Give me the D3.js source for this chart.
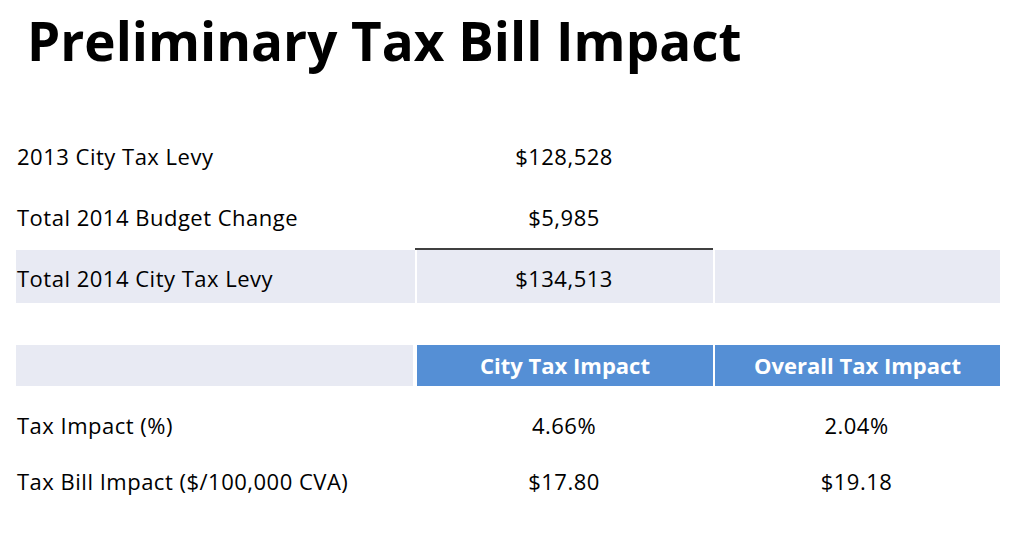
<!DOCTYPE html>
<html>
<head>
<meta charset="utf-8">
<script src="https://cdn.jsdelivr.net/npm/d3@7"></script>
<style>
  body { margin: 0; background: #fff; }
  text { font-family: "Open Sans", Lato, sans-serif; letter-spacing: 0.5px; }
</style>
</head>
<body>
<svg id="chart" width="1024" height="542"></svg>
<script>
// data
const title = 'Preliminary Tax Bill Impact';
const levyLabels = ['2013 City Tax Levy', 'Total 2014 Budget Change', 'Total 2014 City Tax Levy'];
const levyValues = ['$128,528', '$5,985', '$134,513'];
const impactHeaders = ['City Tax Impact', 'Overall Tax Impact'];
const impactLabels = ['Tax Impact (%)', 'Tax Bill Impact ($/100,000 CVA)'];
const cityImpact = ['4.66%', '$17.80'];
const overallImpact = ['2.04%', '$19.18'];

const svg = d3.select('#chart');

// column layout: label | col1 | col2
const x = d3.scaleOrdinal().domain(['label', 'c1', 'c2']).range([16, 415, 713]);
const colWidth = { label: 399, c1: 298, c2: 287 };
const xMid = col => x(col) + colWidth[col] / 2;

// row layout
const y1 = d3.scalePoint().domain(levyLabels).range([157, 279]);
const y2 = d3.scalePoint().domain(impactLabels).range([426, 482]);

svg.append('text')
    .attr('x', 27).attr('y', 61)
    .attr('font-size', 53).attr('font-weight', 700)
    .style('letter-spacing', '0px')
    .attr('fill', '#000')
    .text(title);

// shaded total row
['label', 'c1', 'c2'].forEach(col => {
    svg.append('rect')
        .attr('x', x(col) + (col === 'label' ? 0 : 2))
        .attr('y', 250).attr('height', 53)
        .attr('width', colWidth[col] - (col === 'label' ? 0 : 2))
        .attr('fill', '#e8eaf3');
});
svg.append('line')
    .attr('x1', x('c1')).attr('x2', x('c2'))
    .attr('y1', 249).attr('y2', 249)
    .attr('stroke', '#000').attr('stroke-width', 1.5);

levyLabels.forEach((d, i) => {
    svg.append('text').attr('x', 17).attr('y', y1(d) + 8)
        .attr('font-size', 22).text(d);
    svg.append('text').attr('x', xMid('c1')).attr('y', y1(d) + 8)
        .attr('font-size', 22).attr('text-anchor', 'middle').text(levyValues[i]);
});

// header row
svg.append('rect').attr('x', x('label')).attr('y', 345)
    .attr('width', colWidth.label - 2).attr('height', 41).attr('fill', '#e8eaf3');
['c1', 'c2'].forEach((col, i) => {
    svg.append('rect').attr('x', x(col) + 2).attr('y', 345)
        .attr('width', colWidth[col] - 2).attr('height', 41).attr('fill', '#558fd5');
    svg.append('text').attr('x', xMid(col) + 1).attr('y', 374)
        .attr('font-size', 22).attr('font-weight', 700).attr('fill', '#fff')
        .style('letter-spacing', '0px')
        .attr('text-anchor', 'middle').text(impactHeaders[i]);
});

impactLabels.forEach((d, i) => {
    svg.append('text').attr('x', 17).attr('y', y2(d) + 8)
        .attr('font-size', 22).text(d);
    svg.append('text').attr('x', xMid('c1')).attr('y', y2(d) + 8)
        .attr('font-size', 22).attr('text-anchor', 'middle').text(cityImpact[i]);
    svg.append('text').attr('x', xMid('c2')).attr('y', y2(d) + 8)
        .attr('font-size', 22).attr('text-anchor', 'middle').text(overallImpact[i]);
});
</script>
</body>
</html>
